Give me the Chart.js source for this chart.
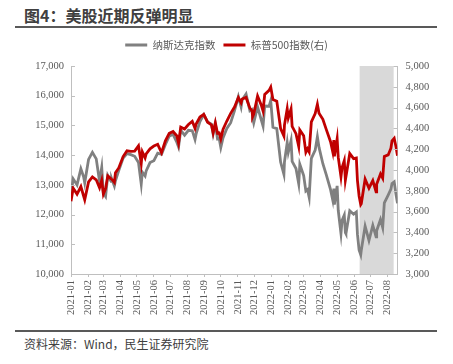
<!DOCTYPE html>
<html>
<head>
<meta charset="utf-8">
<script src="https://cdn.jsdelivr.net/npm/chart.js@4/dist/chart.umd.min.js"></script>
<style>
  body { margin: 0; background: #fff; width: 453px; height: 364px; position: relative; overflow: hidden; font-family: "Noto Sans CJK SC", sans-serif; }
  #title { position: absolute; left: 24px; top: 5px; line-height: 20px; font-size: 16px; font-weight: bold; color: #404040; }
  .rule { position: absolute; left: 15px; width: 422px; height: 2px; background: #595959; }
  #source { position: absolute; left: 24px; top: 336px; line-height: 16px; font-size: 12px; color: #404040; }
  #chart { position: absolute; left: 0; top: 30px; }
</style>
</head>
<body>
<div id="title">图4：美股近期反弹明显</div>
<div class="rule" style="top:26px"></div>
<canvas id="chart" width="453" height="300"></canvas>
<div class="rule" style="top:330px"></div>
<div id="source">资料来源：Wind，民生证券研究院</div>
<script>
"use strict"

// series names
const seriesNames = ["纳斯达克指数", "标普500指数(右)"];

// trading dates (roughly weekly, plus a few swings)
const dates = [
  "2021-01-04","2021-01-08","2021-01-15","2021-01-22","2021-01-27","2021-01-29","2021-02-05","2021-02-12",
  "2021-02-19","2021-02-25","2021-03-01","2021-03-04","2021-03-08","2021-03-12","2021-03-18","2021-03-19",
  "2021-03-24","2021-03-26","2021-04-01","2021-04-09","2021-04-16","2021-04-23","2021-04-30","2021-05-07",
  "2021-05-12","2021-05-14","2021-05-19","2021-05-21","2021-05-28","2021-06-04","2021-06-11","2021-06-18",
  "2021-06-25","2021-07-02","2021-07-09","2021-07-16","2021-07-19","2021-07-23","2021-07-30","2021-08-06",
  "2021-08-13","2021-08-18","2021-08-20","2021-08-27","2021-09-03","2021-09-10","2021-09-17","2021-09-20",
  "2021-09-24","2021-09-28","2021-10-01","2021-10-04","2021-10-08","2021-10-15","2021-10-22","2021-10-29",
  "2021-11-05","2021-11-10","2021-11-12","2021-11-19","2021-11-26","2021-11-30","2021-12-01","2021-12-03",
  "2021-12-10","2021-12-17","2021-12-20","2021-12-23","2021-12-31",
  "2022-01-03","2022-01-07","2022-01-14","2022-01-21","2022-01-27","2022-01-28","2022-02-02","2022-02-04",
  "2022-02-09","2022-02-11","2022-02-18","2022-02-23","2022-02-25","2022-03-04","2022-03-08","2022-03-11",
  "2022-03-14","2022-03-18","2022-03-25","2022-03-29","2022-04-01","2022-04-08","2022-04-14","2022-04-22",
  "2022-04-26","2022-04-28","2022-04-29","2022-05-04","2022-05-06","2022-05-11","2022-05-13","2022-05-17",
  "2022-05-19","2022-05-20","2022-05-27","2022-06-03","2022-06-08","2022-06-10","2022-06-13","2022-06-16",
  "2022-06-17","2022-06-24","2022-07-01","2022-07-08","2022-07-14","2022-07-15","2022-07-22","2022-07-26",
  "2022-07-29","2022-08-05","2022-08-10","2022-08-12","2022-08-16","2022-08-19","2022-08-22"
];

const nasdaq = [
  12698,13202,12998,13543,13271,13070,13856,14095,
  13874,13119,13588,12723,12609,13320,13116,13215,
  12961,13138,13480,13900,14052,14016,13962,13752,
  13032,13430,13300,13471,13749,13814,14069,14030,
  14360,14639,14701,14427,14275,14837,14673,14835,
  14823,14526,14715,15130,15363,15115,15044,14714,
  15048,14546,14567,14255,14580,14897,15090,15498,
  15971,15622,15861,16057,15491,15538,15254,15085,
  15630,15170,14980,15653,15645,
  15833,14936,14894,13768,13353,13770,14417,14098,
  14490,13791,13548,13037,13694,13313,12796,12843,
  12581,13893,14169,14620,14261,13711,13351,12839,
  12491,12872,12335,12964,12145,11364,11805,11984,
  11389,11354,12131,12013,12086,11340,10809,10646,
  10798,11608,11128,11635,11251,11452,11834,11563,
  12391,12657,12855,13047,13103,12705,12381
];

const spx = [
  3700,3824,3768,3841,3750,3714,3886,3934,
  3906,3829,3901,3768,3821,3943,3915,3913,
  3881,3974,4020,4129,4185,4180,4181,4232,
  4063,4174,4116,4156,4204,4230,4247,4166,
  4281,4352,4370,4327,4258,4412,4395,4437,
  4468,4400,4442,4509,4535,4459,4433,4358,
  4455,4353,4357,4300,4391,4471,4545,4605,
  4697,4646,4683,4698,4595,4567,4513,4538,
  4712,4620,4568,4726,4766,
  4797,4677,4662,4398,4327,4432,4589,4501,
  4587,4419,4349,4226,4385,4329,4171,4204,
  4173,4463,4543,4632,4546,4488,4393,4272,
  4175,4288,4132,4300,4123,3935,4023,4089,
  3901,3901,4158,4109,4116,3901,3750,3667,
  3675,3912,3825,3899,3790,3863,3962,3921,
  4130,4145,4210,4280,4305,4228,4138
];

// x axis month labels
const monthTicks = [
  "2021-01","2021-02","2021-03","2021-04","2021-05","2021-06","2021-07","2021-08","2021-09","2021-10",
  "2021-11","2021-12","2022-01","2022-02","2022-03","2022-04","2022-05","2022-06","2022-07","2022-08"
];

// shaded rebound period
const shadeRange = ["2022-06-14", "2022-08-15"];

function toTs(s){
  return new Date(s + "T00:00:00Z").getTime();
}

function fmt(v){
  return v.toLocaleString("en-US");
}

const shadePlugin = {
  id: "shade",
  beforeDatasetsDraw(chart){
    const {ctx, chartArea, scales} = chart;
    const x0 = scales.x.getPixelForValue(toTs(shadeRange[0]));
    const x1 = scales.x.getPixelForValue(toTs(shadeRange[1]));
    ctx.save();
    ctx.fillStyle = "#d9d9d9";
    ctx.fillRect(x0, chartArea.top, x1 - x0, chartArea.bottom - chartArea.top);
    ctx.restore();
  }
};

// small tick marks pointing into the plot on both value axes
const innerTicks = {
  id: "innerTicks",
  afterDraw(chart){
    const ctx = chart.ctx;
    ctx.save();
    ctx.strokeStyle = "#bfbfbf";
    ctx.lineWidth = 1;
    ["y", "y1"].forEach(id => {
      const s = chart.scales[id];
      const x = id === "y" ? s.right : s.left;
      const dir = id === "y" ? 1 : -1;
      s.ticks.forEach(t => {
        const py = Math.round(s.getPixelForValue(t.value)) + 0.5;
        ctx.beginPath();
        ctx.moveTo(x, py);
        ctx.lineTo(x + dir * 4, py);
        ctx.stroke();
      });
    });
    ctx.restore();
  }
};

// empty box between legend and plot, to push the plot down a bit
const legendGap = {
  id: "legendGap",
  beforeInit(chart){
    Chart.layouts.addBox(chart, {
      position: "top",
      weight: 900,
      fullSize: true,
      options: {},
      width: 0,
      height: 0,
      isHorizontal(){ return true; },
      update(maxWidth){
        this.width = maxWidth;
        this.height = 5.75;
        return {width: this.width, height: this.height};
      },
      draw(){},
    });
  }
};

const tickFont = {family: "'Liberation Serif', serif", size: 10.5};

const data = {
  datasets: [
    {
      label: seriesNames[0],
      data: dates.map((d, i) => ({x: toTs(d), y: nasdaq[i]})),
      borderColor: "#808080",
      backgroundColor: "#808080",
      borderWidth: 2.8,
      pointRadius: 0,
      yAxisID: "y",
      order: 1,
    },
    {
      label: seriesNames[1],
      data: dates.map((d, i) => ({x: toTs(d), y: spx[i]})),
      borderColor: "#c00000",
      backgroundColor: "#c00000",
      borderWidth: 2.8,
      pointRadius: 0,
      yAxisID: "y1",
      order: 0,
    },
  ],
};

const config = {
  type: "line",
  data: data,
  options: {
    responsive: false,
    animation: false,
    layout: {padding: {top: 1.75, left: 0, right: 0, bottom: 0}},
    plugins: {
      tooltip: {enabled: false},
      legend: {
        labels: {
          usePointStyle: true,
          pointStyle: "line",
          pointStyleWidth: 22,
          padding: 8,
          color: "#595959",
          font: {family: "'Noto Sans CJK SC', sans-serif", size: 10.5},
          sort: (a, b) => a.datasetIndex - b.datasetIndex,
        },
      },
    },
    scales: {
      x: {
        type: "linear",
        min: toTs(dates[0]),
        max: toTs(dates[dates.length - 1]),
        afterBuildTicks: (scale) => {
          scale.ticks = monthTicks.map(m => ({value: toTs(m + "-04")}));
        },
        afterFit: (scale) => { scale.height = 56; },
        grid: {drawOnChartArea: false, tickLength: 3, color: "#bfbfbf"},
        border: {color: "#bfbfbf"},
        ticks: {
          autoSkip: false,
          minRotation: 90,
          maxRotation: 90,
          padding: 3,
          color: "#595959",
          font: tickFont,
          callback: (v) => new Date(v).toISOString().slice(0, 7),
        },
      },
      y: {
        position: "left",
        min: 10000,
        max: 17000,
        afterFit: (scale) => { scale.width = 71; },
        grid: {drawOnChartArea: false, drawTicks: false},
        border: {color: "#bfbfbf"},
        ticks: {stepSize: 1000, padding: 7, color: "#595959", font: tickFont, callback: fmt},
      },
      y1: {
        position: "right",
        min: 3000,
        max: 5000,
        afterFit: (scale) => { scale.width = 55.5; },
        grid: {drawOnChartArea: false, drawTicks: false},
        border: {color: "#bfbfbf"},
        ticks: {stepSize: 200, padding: 8, color: "#595959", font: tickFont, callback: fmt},
      },
    },
  },
  plugins: [shadePlugin, innerTicks, legendGap],
};

const myChart = new Chart(document.getElementById("chart"), config);
</script>
</body>
</html>
